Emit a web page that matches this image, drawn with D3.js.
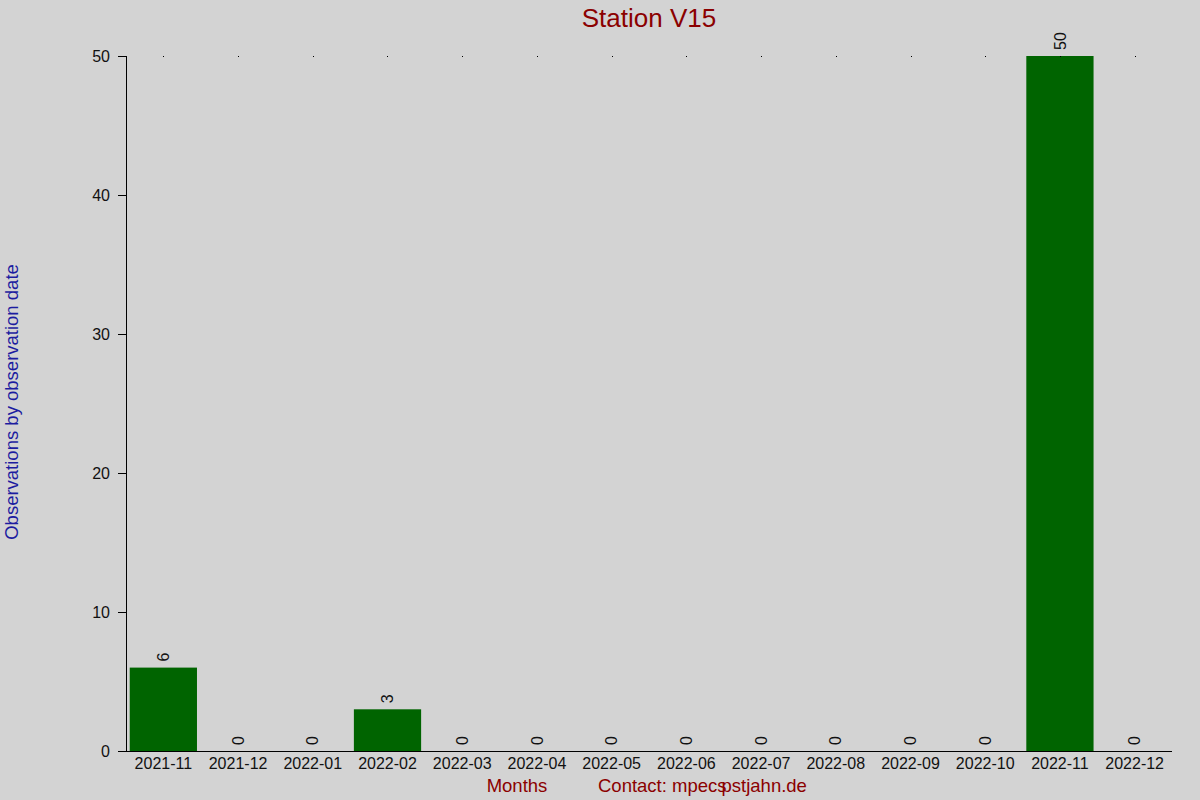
<!DOCTYPE html>
<html>
<head>
<meta charset="utf-8">
<script src="https://cdn.jsdelivr.net/npm/d3@7"></script>
<style>
  body { margin: 0; background: #d3d3d3; }
  svg text { font-family: "Liberation Sans", Arial, sans-serif; }
</style>
</head>
<body>
<div id="chart"></div>
<script>
// data
let months = ["2021-11", "2021-12", "2022-01", "2022-02", "2022-03", "2022-04", "2022-05",
              "2022-06", "2022-07", "2022-08", "2022-09", "2022-10", "2022-11", "2022-12"];
let counts = [6, 0, 0, 3, 0, 0, 0, 0, 0, 0, 0, 0, 50, 0];
let yTicks = [0, 10, 20, 30, 40, 50];

let width = 1200, height = 800;
let margin = {top: 56, right: 28, bottom: 49, left: 126};

let svg = d3.select("#chart").append("svg")
    .attr("width", width)
    .attr("height", height);

svg.append("rect")
    .attr("width", width)
    .attr("height", height)
    .attr("fill", "#d3d3d3");

let xScale = d3.scaleBand()
    .domain(months)
    .range([margin.left, width - margin.right])
    .paddingInner(0.1)
    .paddingOuter(0.05);

let yScale = d3.scaleLinear()
    .domain([0, 50])
    .range([height - margin.bottom, margin.top]);

// bars
svg.append("g").attr("class", "bars")
    .selectAll("rect")
    .data(counts)
    .enter().append("rect")
    .attr("x", (d, i) => xScale(months[i]))
    .attr("y", d => yScale(d))
    .attr("width", xScale.bandwidth())
    .attr("height", d => yScale(0) - yScale(d))
    .attr("fill", "#006400");

// value labels, rotated
svg.append("g").attr("class", "values")
    .selectAll("text")
    .data(counts)
    .enter().append("text")
    .attr("transform", (d, i) => `translate(${xScale(months[i]) + xScale.bandwidth() / 2}, ${yScale(d) - 6}) rotate(-90)`)
    .attr("dy", "0.35em")
    .attr("text-anchor", "start")
    .style("font-size", "16px")
    .attr("fill", "#111")
    .text(d => d);

// little dots along the top
svg.append("g").attr("class", "top-dots")
    .selectAll("rect")
    .data(months)
    .enter().append("rect")
    .attr("x", d => Math.round(xScale(d) + xScale.bandwidth() / 2))
    .attr("y", yScale(50))
    .attr("width", 1)
    .attr("height", 1)
    .attr("fill", "#000");

// axes
let yAxis = d3.axisLeft(yScale)
    .tickValues(yTicks)
    .tickSize(8)
    .tickPadding(8);
let gy = svg.append("g")
    .attr("class", "y-axis")
    .attr("transform", `translate(${margin.left},0)`)
    .call(yAxis);
gy.select(".domain").attr("d", `M0.5,${yScale(50)}V${yScale(0)}`).attr("stroke", "#000");
gy.selectAll("text").style("font-size", "16px").attr("fill", "#111");

let xAxis = d3.axisBottom(xScale)
    .tickSize(0)
    .tickPadding(7);
let gx = svg.append("g")
    .attr("class", "x-axis")
    .attr("transform", `translate(0,${yScale(0)})`)
    .call(xAxis);
gx.select(".domain").attr("d", `M${margin.left - 8},0.5H${width - margin.right}`).attr("stroke", "#000");
gx.selectAll("text").style("font-size", "16px").attr("fill", "#111");

// title and labels
svg.append("text")
    .attr("x", 649)
    .attr("y", 27)
    .attr("text-anchor", "middle")
    .style("font-size", "26px")
    .attr("fill", "#8b0000")
    .text("Station V15");

svg.append("text")
    .attr("transform", `translate(18, ${402}) rotate(-90)`)
    .attr("text-anchor", "middle")
    .style("font-size", "18.5px")
    .attr("fill", "#1c1ca0")
    .text("Observations by observation date");

svg.append("text")
    .attr("x", 517)
    .attr("y", 792)
    .attr("text-anchor", "middle")
    .style("font-size", "18.5px")
    .attr("fill", "#8b0000")
    .text("Months");

let contact = svg.append("text")
    .attr("x", 598)
    .attr("y", 792)
    .style("font-size", "18.5px")
    .attr("fill", "#8b0000");
contact.append("tspan").text("Contact: mpecs");
contact.append("tspan").attr("dx", -5).text("pstjahn.de");
</script>
</body>
</html>
